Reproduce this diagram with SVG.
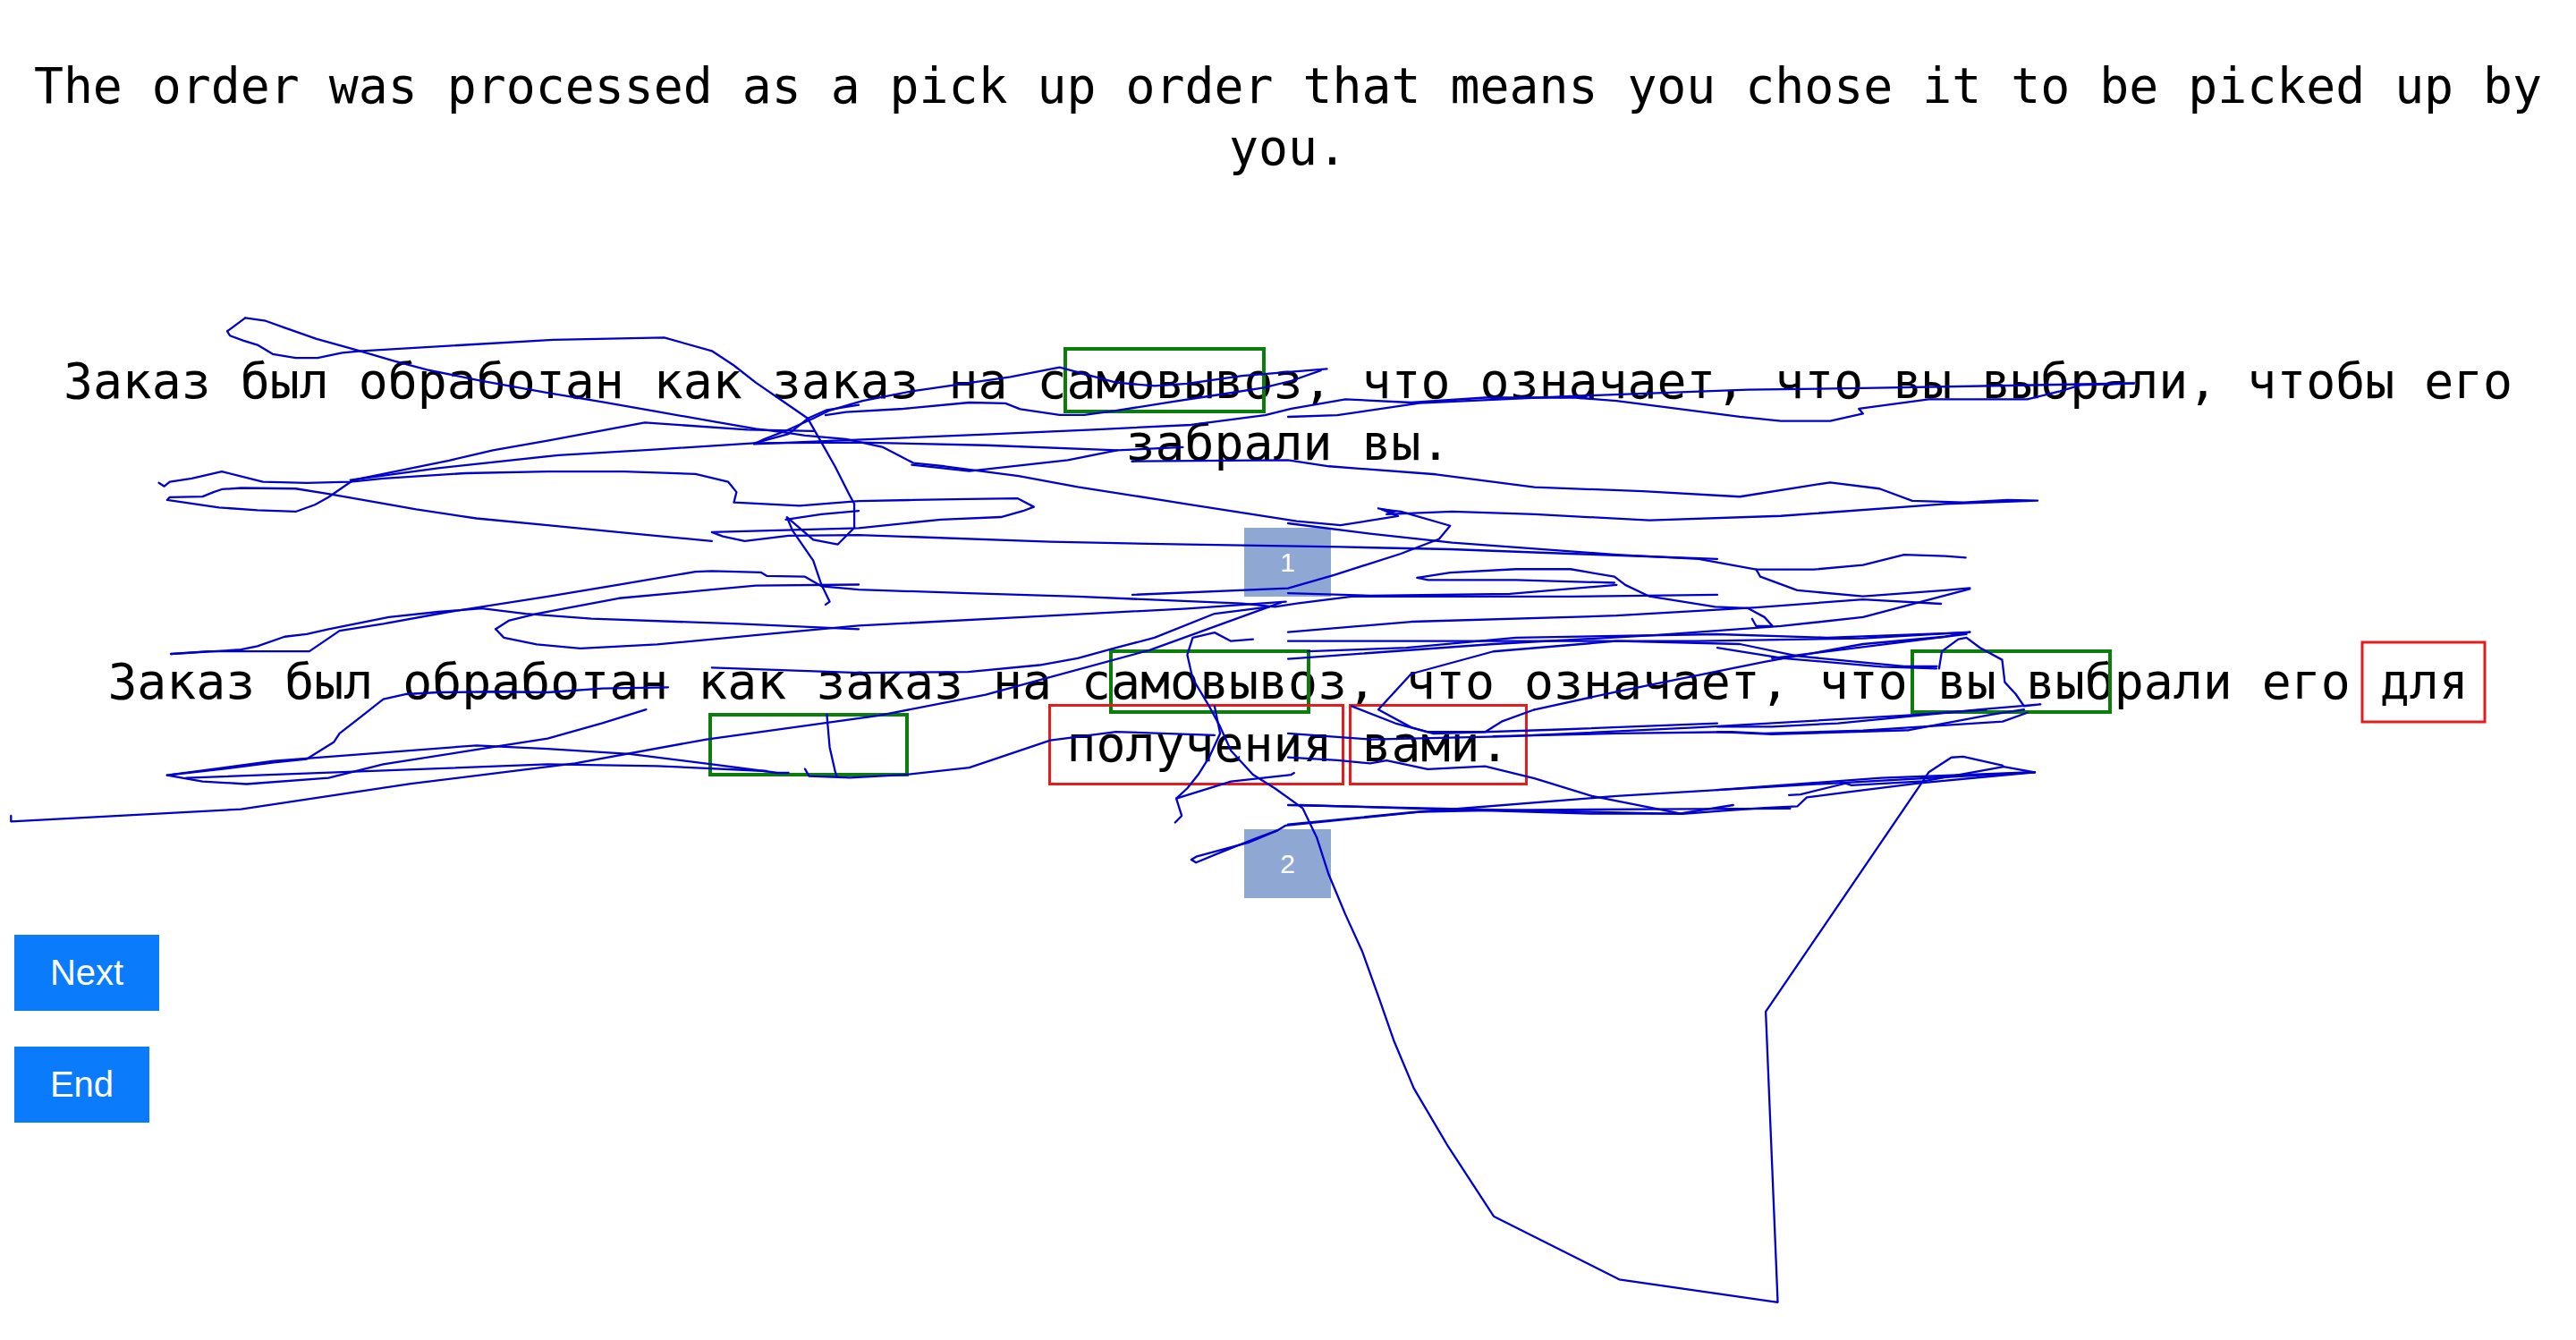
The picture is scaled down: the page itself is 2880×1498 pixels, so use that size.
<svg xmlns="http://www.w3.org/2000/svg" width="2880" height="1498" viewBox="0 0 2880 1498">
<defs>
<style>
.t{font-family:"DejaVu Sans Mono","Liberation Mono",monospace;font-size:54.8px;fill:#000;text-anchor:middle}
.g{fill:none;stroke:#0a7d0a;stroke-width:4}
.r{fill:none;stroke:#e51c1c;stroke-width:3}
.badge{fill:#8ea7d3}
.bt{font-family:"Liberation Sans",Arial,sans-serif;fill:#fff;text-anchor:middle}
.btn{fill:#0a7cfb}
.s{fill:none;stroke:#0000cc;stroke-width:1.25;stroke-linejoin:round;stroke-linecap:round}
</style>
</defs>
<rect width="2880" height="1498" fill="#fff"/>
<g id="title">
<text class="t" x="1440" y="115">The order was processed as a pick up order that means you chose it to be picked up by</text>
<text class="t" x="1440" y="184">you.</text>
</g>
<g id="sentence1">
<text class="t" x="1440" y="445">Заказ был обработан как заказ на самовывоз, что означает, что вы выбрали, чтобы его</text>
<text class="t" x="1440" y="514">забрали вы.</text>
</g>
<g id="sentence2">
<text class="t" x="1440" y="781">Заказ был обработан как заказ на самовывоз, что означает, что вы выбрали его для</text>
<text class="t" x="1440" y="851">получения вами.</text>
</g>
<g id="highlights">
<rect class="g" x="1191" y="390" width="222" height="70"/>
<rect class="g" x="1242" y="728" width="221" height="68"/>
<rect class="g" x="794" y="799" width="220" height="67"/>
<rect class="g" x="2138" y="728" width="221" height="68"/>
<rect class="r" x="2641" y="718" width="137" height="89"/>
<rect class="r" x="1173.5" y="788.5" width="328" height="88"/>
<rect class="r" x="1509.5" y="788.5" width="197" height="88"/>
</g>
<g id="badge1">
<rect class="badge" x="1391" y="590" width="97" height="77"/>
<text class="bt" x="1439.5" y="639" font-size="30">1</text>
</g>
<g id="badge2">
<rect class="badge" x="1391" y="927" width="97" height="77"/>
<text class="bt" x="1439.5" y="976" font-size="30">2</text>
</g>
<g id="next-button">
<rect class="btn" x="16" y="1045" width="162" height="85"/>
<text class="bt" x="97" y="1101" font-size="40">Next</text>
</g>
<g id="end-button">
<rect class="btn" x="16" y="1170" width="151" height="85"/>
<text class="bt" x="91.5" y="1226" font-size="40">End</text>
</g>
<g id="connectors" transform="scale(1.836735)">
<polyline class="s" points="149.3,193.5 138.3,201.6 140,204.3 148.3,207.4 156.7,209.9 166,215.5 180,217.8 193.3,217.8 208.3,214.7 220,213.6 336.7,206.8 404.3,205.5 433.3,213.6 446.7,222.4 460,232.8 476.7,244.3 491.7,254.7 500,269.3 508.3,283.9 516.7,300.5 520,306.7 520,321.2 510,331.3 495,328.5 479,314.8 482.5,323.1 495,341.2 500,355.8 505,366.2 502.5,368"/>
<polyline class="s" points="149.3,193.5 161.7,195.3 173.3,199.5 192.7,206.3 216.7,213 240,219.7 260,225.1 293.3,231.8 333.3,239.1 366.7,244.7 400,250.5 433.3,256.4 460,261 476.7,263 490,265.1 515,267.3 537.5,272.2 556,281.8 575,283.8 620,289.7 656,296.4 710,304.8 722.7,306.8 789.3,317.2 816,319.7 851,314.1 841,310 852.7,311.4 882.7,320 876,328 852.7,337 812,350 784,358 689.3,362"/>
<polyline class="s" points="459,270.2 465,267.3 480,261.5 495,254.7 505,249.8 525,244 555,238.1 615,229.4 645,223.6 679.3,232.8 702.7,234.9 722.7,233.5 756,228.7 782.7,226.6 807.7,224.5"/>
<polyline class="s" points="459,270.2 505,268.3 600,264.4 665,261.5 725,258.6 770,252.7 786,248.8 819,243 859,245 904,242 959,242 984,244 1059,253.7 1084,256.2 1114,256.2 1134,251.8 1131.5,248.8 1174,243 1234,243 1254,238.1 1266.5,234.3 1299,233.3"/>
<polyline class="s" points="502.5,252.7 515,250.8 550,248.8 590,245 612,245.5 621,249 645,252.6 660,252.5 679,250 712.7,244.7 742.7,240.1 769.3,236 786,231.8 804,225.5"/>
<polyline class="s" points="784,253.7 814,252.7 864,245.3 959,241 1064,237.2 1134,236.2 1299,233.3"/>
<polyline class="s" points="96.7,293.9 100,296 103.3,293.2 116.7,291.2 135,287 160,293.3 186.7,293.9 213.3,293.2 233.3,291.2 283.3,288 333.3,287 380,287 423.3,288.5 443.3,293.3 448.3,299.5 446.7,305.8 486.7,307.8 522.7,305 556,304.3 589.3,303.7 619.3,303.3 629.3,308.5 622.7,311 609.3,314.7 572.7,316.2 522.7,321.4 433.3,323.9 440,326.5 453.3,329.3 480,326 522.7,325.6 639.3,329.7 722.7,331.4 816,332.9 882.7,334.3 956,337 1045.3,340.2"/>
<polyline class="s" points="495,262.4 455,261.5 392.5,257.2 333.3,268.2 300,274.1 273.3,280.3 215,292.2 200,302.6 191.7,307.2 180,311.4 156.7,310.5 133.3,308.9 101.7,304.3 103.3,302.6 123.3,302.2 130,299.5 135,297.8 146.7,297 180,297.4 200,300.6 233.3,306.4 253.3,310 290,315.5 333.3,319.7 383.3,324.5 433.3,329.3"/>
<polyline class="s" points="213.3,292.2 266.7,284.9 340,277 400,273.5 459.3,269.7 522.7,269.3 600,271 680,274.1 700,273.1 720,272.2"/>
<polyline class="s" points="555,282.9 590,286.7 650,280 680,274.1"/>
<polyline class="s" points="459.3,269.7 480,264.1 491.7,254.7 503.3,249.5 522.7,246.4"/>
<polyline class="s" points="478.3,316.2 500,313 522.7,311"/>
<polyline class="s" points="104,398 146.7,395.4 156.7,393.3 173.3,387.5 186.7,386 200,382.9 236.7,375.6 266.7,372.4 293.3,370.3 320,373.5 360,376.6 450,379.7 522.7,382.9"/>
<polyline class="s" points="104,398 126.7,396.4 188.3,396.4 206.7,383.9 233.3,379.7 273.3,372.4 333.3,363.1 376.7,355.8 423.3,348 433.3,347.6 463.3,348.4 466.7,350.5 490,351 500,356.8 522.7,358.9 589.3,361 656,363.1 756,367.3 776,369.3 789.3,367.3 822.7,363.1 856,363.1 956,363.1 1045.3,362"/>
<polyline class="s" points="301.7,382.9 306.7,388.1 326.7,392.2 353.3,394.7 400,392.2 466.7,386 522.7,380.8 622.7,375.6 722.7,370.4 782.7,366.2"/>
<polyline class="s" points="301.7,382.9 310,377.6 326.7,373.5 376.7,364.1 433.3,358.9 460,356.4 522.7,355.8"/>
<polyline class="s" points="689,280.8 784,280 809,283.8 874,288.7 934,296.5 1000,299 1059,302.3 1114,293.6 1144,297.4 1164,304.8 1195.3,305.8 1222,304.3 1240.3,304.7 1184,306.7 1084,314 1004,316.7 934,313 884,311.3 844,313 849,311.3 839,309.4"/>
<polyline class="s" points="862.7,351.6 882.7,348.5 922.7,346.4 956,346.4 982.7,351 989.3,356 1004,363 1044,369.3 1064,370.2 1074,375.6 1079,381.1 1069,381.1 1066.5,376.6"/>
<polyline class="s" points="862.7,351.6 869.3,353 922.7,353 982.7,354.7"/>
<polyline class="s" points="784,318.5 834,324.8 884,330.3 984,337.6 1034,340.2 1069,346.6 1104,346.6 1134,343.9 1159,337.6 1184,338.4 1196.5,339.4"/>
<polyline class="s" points="1069,346.6 1071.5,351 1094,359.3 1134,362.9 1184,359.3 1199,357.9"/>
<polyline class="s" points="784,361 834,362.5 919,361.5 984,356"/>
<polyline class="s" points="784,384.7 859,378.4 984,374.7 1069,369.8 1134,364.8 1181.5,367.5"/>
<polyline class="s" points="784,390.2 884,390.2 1034,390.2 1134,388.5 1199,384.7"/>
<polyline class="s" points="784,401 909,392 1009,386.5 1084,381.1 1134,375.6 1199,358.4"/>
<polyline class="s" points="849,421 859,410.1 909,396.5 984,390.2 1059,392 1094,399.3 1159,405.5 1179,405.5"/>
<polyline class="s" points="934,431.9 984,421 1074,402.8 1134,392 1184,387.5 1199,384.7"/>
<polyline class="s" points="849,421 839,431.9 859,442.7 869,445.5 904,445.5 914,439.2 934,431.9"/>
<polyline class="s" points="784,446.4 834,450 919,448.2 1034,442.7 1159,435.5 1209,431.9"/>
<polyline class="s" points="909,448.2 984,446.4 1054,445.5 1074,446.4 1134,444.6 1219,439.2 1234,433.8"/>
<polyline class="s" points="784,460.9 814,462.7 834,464.6 844,462.8 869,468.1 904,466.4 934,473.7 969,484.5 1024,495.4 1049,493.5 1074,491.7 1094,490.8 1099.8,485.3 1125.2,482 1168.7,476.6 1238.6,470"/>
<polyline class="s" points="784,490 859,491.7 1024,495.4"/>
<polyline class="s" points="784,501.8 859,494.5 984,484.5 1088.9,478.2 1238.6,470"/>
<polyline class="s" points="1088.9,483.9 1096,483.5 1123.4,476.8 1127,478 1170.6,475.5 1219.6,466.6"/>
<polyline class="s" points="1238.6,470 1219.6,466.6 1218.7,465.8 1195,460.5 1187.8,461 1174,470 1168.7,478 1074.8,615.7 1082.1,792.6 985.6,778.7 909.2,740.3 881.4,697.7 860.6,662.4 848.4,633.3 839.7,608.4 829.3,579.3 818.9,556.5 808.5,531.5 801.5,509.7 793,492 776,479.8 762.7,471.5 749.3,456.9 742.7,442.3 736,429.8 726,413.1 722.7,398.5 726,388.1 739.3,385 749.3,390.2 762.7,389.1"/>
<polyline class="s" points="739.3,429.8 742.7,446.4 736,461 729.3,471.5 722.7,479.8 716,486 719.3,496.5 715.3,500.6"/>
<polyline class="s" points="716,486 749.3,475.6 786,471.5 787.7,470.4"/>
<polyline class="s" points="725.2,523.2 728.6,521.2 759.9,512.8 777.2,505.6 782.4,502.5 864,494.2 916.1,493.1 1000,492.5 1089.7,492.1"/>
<polyline class="s" points="777.2,505.6 765,510 745,518 728,525 725.2,523.2"/>
<polyline class="s" points="791.1,490 968.2,495.2 1022,495.2 1055,490"/>
<polyline class="s" points="6.7,496.5 6.7,500 146.7,492.5 250,477 350,464.6 430,450 535,435.5 600,422.8 700,395.6 780,366.6"/>
<polyline class="s" points="406.7,418.3 366.7,419 333.3,421.4 300,421 266.7,421.4 246.7,422.5 233.3,425.6 220,436 206.7,446.4 203.3,451.6 186.7,462 166.7,464.1 133.3,468.3 101.7,471.8 123.3,475.6 150,477.2 200,473.5 233.3,465.2 300,454.7 333.3,449.5 366.7,440.1 393.3,431.8"/>
<polyline class="s" points="101.7,471.8 166.7,463.1 290,453.7 333.3,455.8 383.3,458.9 433.3,465.2 473.3,470.4 480,470.4"/>
<polyline class="s" points="113.3,473.5 333.3,465.2 400,466.2 466.7,469.3"/>
<polyline class="s" points="503.3,435 505,454.7 508.3,469.3 509.3,472.5"/>
<polyline class="s" points="490,468 492.5,472.4 517.5,473.3 550,471.6 590,467.2 639.3,450.6 679.3,445.4 739.3,447.5"/>
<polyline class="s" points="433.3,406.4 522.7,409.5 589.3,408.9 632.7,404.8 656,400.6 679.3,394.3 702.7,388.1 739.3,373.5 772.7,369.3"/>
<polyline class="s" points="822.7,429.8 849.3,440.2 872.7,446.5 950,444 1045.3,440.2"/>
<polyline class="s" points="796,396.4 856,394.3 922.7,388.1 1045.3,386 1112,388.1 1197,385"/>
<polyline class="s" points="1045.3,394.3 1085.3,400.6 1145.3,405.8 1178.7,406.9"/>
<polyline class="s" points="1078.7,400.6 1197,386"/>
<polyline class="s" points="1180.3,406.9 1182,396.4 1192,389.1 1197,388.1 1205.3,394.3 1218.7,401.6 1220.3,415.2 1227,422.5 1232,429.8 1242,428.7 1205.3,431.8 1162,436 1118.7,440.2 1078.7,442.3 1045.3,442.3"/>
<polyline class="s" points="1045.3,445.4 1078.7,446.9 1162,444.4 1212,435 1232,431.8"/>
<polyline class="s" points="1238.6,470 1145,473.5 1045,480.8"/>
</g>
</svg>
